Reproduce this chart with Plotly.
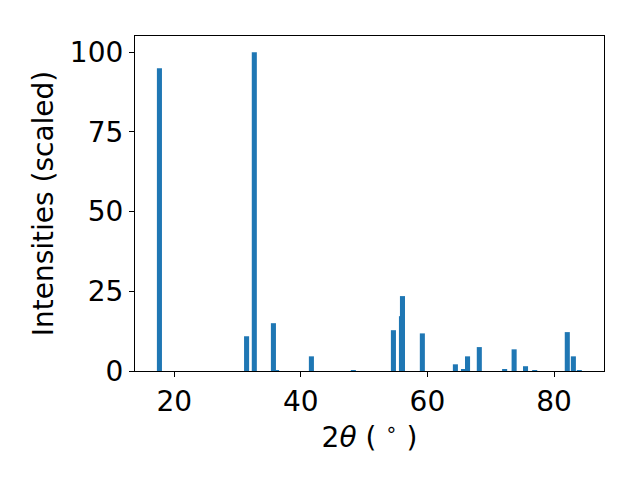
import plotly.graph_objects as go

two_theta = [17.66, 31.43, 32.65, 35.67, 36.17, 41.67, 48.3, 54.63, 55.9, 56.06,
             59.2, 64.42, 65.7, 66.34, 68.2, 72.2, 73.7, 75.5, 76.95, 82.1, 83.06, 84.0]
intensity = [95.0, 10.9, 100.0, 15.0, 0.3, 4.6, 0.3, 12.8, 17.2, 23.5,
             11.8, 2.1, 0.6, 4.6, 7.5, 0.6, 6.8, 1.5, 0.3, 12.2, 4.6, 0.3]

x_ticks = [20, 40, 60, 80]
y_ticks = [0, 25, 50, 75, 100]

fig = go.Figure()
fig.add_trace(go.Bar(x=two_theta, y=intensity, width=0.8,
                     marker=dict(color="#1f77b4", line=dict(width=0))))

font = dict(family="DejaVu Sans", size=28, color="black")
axis_common = dict(showline=True, linecolor="black", linewidth=1.2, mirror=True,
                   ticks="outside", ticklen=5, tickwidth=1.2, tickcolor="black",
                   showgrid=False, zeroline=False, tickfont=font)
# page body has an 8px margin, so the figure is 632x472 placed at (8, 8)
fig.update_layout(
    width=632, height=472,
    margin=dict(l=127, r=36, t=28, b=109, autoexpand=False),
    paper_bgcolor="white", plot_bgcolor="white",
    barmode="overlay", showlegend=False, font=font,
    xaxis=dict(range=[13.8, 87.9], tickvals=x_ticks,
               title=dict(text="2<i>θ</i> ( <sup>∘</sup> )", font=font, standoff=1),
               **axis_common),
    yaxis=dict(range=[0, 105.1], tickvals=y_ticks,
               title=dict(text="Intensities (scaled)", font=font, standoff=8),
               **axis_common),
)
fig.write_html("out.html")
